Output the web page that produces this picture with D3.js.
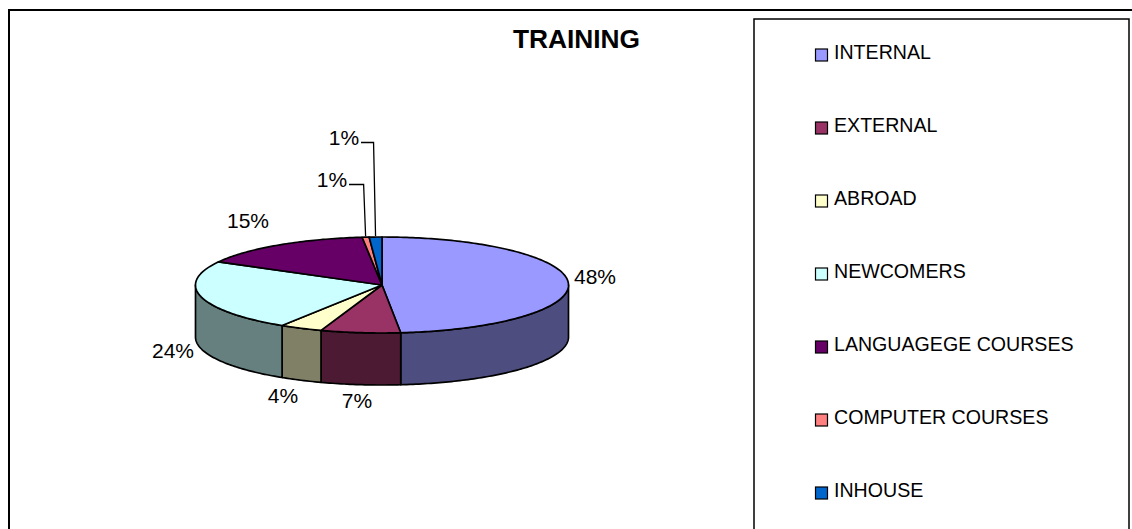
<!DOCTYPE html>
<html>
<head>
<meta charset="utf-8">
<title>TRAINING</title>
<script src="https://cdn.jsdelivr.net/npm/d3@7"></script>
<style>
    html, body { margin: 0; padding: 0; background: #fff; overflow: hidden; }
    svg { display: block; font-family: "Liberation Sans", Arial, sans-serif; }
</style>
</head>
<body>
<svg id="the-chart"></svg>
<script>
// Chart data
const categories = ["INTERNAL", "EXTERNAL", "ABROAD", "NEWCOMERS", "LANGUAGEGE COURSES", "COMPUTER COURSES", "INHOUSE"];
const values = [48.4, 6.9, 3.7, 24, 15.3, 0.6, 1.1];
const colors = ["#9999ff", "#993366", "#ffffcc", "#ccffff", "#660066", "#ff8080", "#0066cc"];
const chartTitle = "TRAINING";

const width = 1132;
const height = 529;

// Pie geometry: a flat ellipse with a wall under it
const cx = 382, cy = 285, rx = 186.5, ry = 48, depth = 52;

// Where each label sits (text centre), same order as categories
const labelPos = [[595, 278], [357, 402], [283, 397], [173, 352], [248, 222], [332, 181], [344, 139]];

const svg = d3.select("#the-chart")
    .attr("width", width)
    .attr("height", height)
    .attr("viewBox", [0, 0, width, height]);

const color = d3.scaleOrdinal(categories, colors);
const percent = d3.format(".0%");
const total = d3.sum(values);

const pie = d3.pie().sort(null).value(d => d.value);
const slices = pie(categories.map((name, i) => ({name, value: values[i]})));

// angle is clockwise from the top, as in d3.pie
const px = a => cx + rx * Math.sin(a);
const py = a => cy - ry * Math.cos(a);

function rimPoints(a0, a1, dy = 0) {
    const n = Math.max(2, Math.ceil((a1 - a0) * 60));
    return d3.range(n + 1).map(i => {
        const a = a0 + (a1 - a0) * i / n;
        return [px(a), py(a) + dy];
    });
}

// walls are the slice colour at half brightness
function shade(c) {
    const {r, g, b} = d3.rgb(c);
    return d3.rgb(r * 0.5, g * 0.5, b * 0.5).formatHex();
}

const line = d3.line();

// Outer frame, open at the right and bottom like the source image
svg.append("path")
    .attr("d", line([[9, height], [9, 10], [width, 10]]))
    .attr("fill", "none")
    .attr("stroke", "#000")
    .attr("stroke-width", 2);

svg.append("text")
    .attr("x", 576.5)
    .attr("y", 48)
    .attr("text-anchor", "middle")
    .attr("font-size", 26.3)
    .attr("font-weight", "bold")
    .text(chartTitle);

// Walls: only the front half of the rim shows
const walls = svg.append("g").attr("stroke", "#000").attr("stroke-width", 1.7).attr("stroke-linejoin", "round");
slices.forEach(s => {
    const a0 = Math.max(s.startAngle, Math.PI / 2);
    const a1 = Math.min(s.endAngle, Math.PI * 1.5);
    if (a1 <= a0) return;
    const top = rimPoints(a0, a1);
    const bottom = rimPoints(a0, a1, depth).reverse();
    walls.append("path")
        .attr("d", line(top.concat(bottom)) + "Z")
        .attr("fill", shade(color(s.data.name)));
});

// Top face
svg.append("g")
    .attr("stroke", "#000")
    .attr("stroke-width", 1.7)
    .attr("stroke-linejoin", "round")
    .selectAll("path")
    .data(slices)
    .join("path")
        .attr("fill", d => color(d.data.name))
        .attr("d", d => line([[cx, cy]].concat(rimPoints(d.startAngle, d.endAngle))) + "Z");

// Percent labels
svg.append("g")
    .attr("font-size", 21)
    .attr("text-anchor", "middle")
    .selectAll("text")
    .data(slices)
    .join("text")
        .attr("x", (d, i) => labelPos[i][0])
        .attr("y", (d, i) => labelPos[i][1])
        .attr("dy", "0.3em")
        .text(d => percent(d.data.value / total));

// Leader lines for the two thin slices
svg.append("g")
    .attr("fill", "none")
    .attr("stroke", "#000")
    .attr("stroke-width", 1.3)
    .selectAll("path")
    .data(slices.filter(d => d.data.value < 2))
    .join("path")
        .attr("d", d => {
            const i = slices.indexOf(d);
            const mid = (d.startAngle + d.endAngle) / 2;
            const y = labelPos[i][1] + 3.5;
            const x0 = labelPos[i][0] + 17;
            const x1 = px(mid) - 2;
            return line([[x0, y], [x1, y], [px(mid), py(mid) - 1]]);
        });

// Legend
svg.append("path")
    .attr("d", line([[754, height], [754, 19], [1129, 19], [1129, height]]))
    .attr("fill", "none")
    .attr("stroke", "#000")
    .attr("stroke-width", 1.5);

const legendY = d3.scalePoint().domain(categories).range([55, 493]);

const legend = svg.append("g")
    .selectAll("g")
    .data(categories)
    .join("g")
        .attr("transform", d => `translate(815,${legendY(d)})`);

legend.append("rect")
    .attr("x", 0.5)
    .attr("y", -6)
    .attr("width", 12)
    .attr("height", 12)
    .attr("fill", d => color(d))
    .attr("stroke", "#000")
    .attr("stroke-width", 1.2);

legend.append("text")
    .attr("x", 19)
    .attr("y", 4)
    .attr("font-size", 19.6)
    .text(d => d);
</script>
</body>
</html>
